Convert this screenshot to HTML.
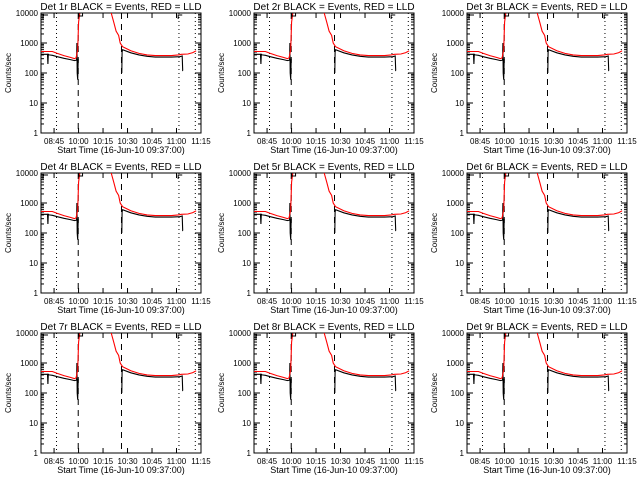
<!DOCTYPE html>
<html><head><meta charset="utf-8"><style>
body{margin:0;background:#fff}
svg{display:block;font-family:"Liberation Sans",sans-serif}
</style></head><body>
<svg id="c" width="640" height="480" viewBox="0 0 640 480"></svg>
<script>
// time in minutes since 09:37
const tickLabels=["08:45","10:00","10:15","10:30","10:45","11:00","11:15"];
const tickTimes=[8,23,38,53,68,83,98];
const yTicks=[1,10,100,1000,10000];
const redT=[0,7,10,14,18,20.5,21.5,22.5,23,24.5,41,43,44.5,46,47.5,48.5,50,55,60,65,70,75,80,84,86,90,93,95];
const redV=[520,520,450,380,330,300,320,600,5000,20000,20000,10000,5000,2500,1800,1000,750,550,450,400,380,380,380,400,420,430,480,550];
const blkT=[0,4,4.2,4.5,5,7,10,14,18,20.5,21.8,22,22.2,22.5,22.8];
const blkV=[420,420,200,420,400,390,350,310,280,260,270,1000,100,60,300];
const blk2T=[49.5,49.7,50,55,60,65,70,75,80,85,86.5,86.8,87];
const blk2V=[100,500,600,470,400,360,340,340,340,350,370,120,120];
const vDotted=[9.5,84.5,94.5];
const vDashed=[22.8,49.3];
const detNames=["1r","2r","3r","4r","5r","6r","7r","8r","9r"];
const NS="http://www.w3.org/2000/svg";
const svg=document.getElementById('c');
function mk(tag,attrs,parent,txt){const e=document.createElementNS(NS,tag);for(const k in attrs)e.setAttribute(k,attrs[k]);if(txt!==undefined)e.textContent=txt;parent.appendChild(e);return e;}
detNames.forEach((d,i)=>{
  const ox=(i%3)*213, oy=Math.floor(i/3)*160;
  const L=ox+41,R=ox+201,T=oy+13,B=oy+133;
  const xs=t=>L+t*(R-L)/98;
  const ys=v=>B-Math.log10(Math.max(v,0.5))*30;
  const g=mk('g',{},svg);
  
  
  const clip='cl'+i;
  const cp=mk('clipPath',{id:clip},g);mk('rect',{x:L,y:T,width:R-L,height:B-T},cp);
  const title=mk('text',{x:(L+R)/2,y:oy+10,'text-anchor':'middle','font-size':10},g,'Det '+d+' BLACK = Events, RED = LLD');
  
  
  const box=mk('rect',{x:L,y:T,width:R-L,height:B-T,fill:'none',stroke:'#000','stroke-width':1},g);
  
  
  yTicks.forEach(v=>{
    const y=ys(v);
    mk('line',{x1:L,x2:L+6,y1:y,y2:y,stroke:'#000'},g);
    mk('line',{x1:R,x2:R-6,y1:y,y2:y,stroke:'#000'},g);
    const yl=mk('text',{x:L-3,y:y+3,'text-anchor':'end','font-size':8},g,String(v));
    
    
    if(v<10000)for(let m=2;m<10;m++){const yy=ys(v*m);mk('line',{x1:L,x2:L+3,y1:yy,y2:yy,stroke:'#000'},g);mk('line',{x1:R,x2:R-3,y1:yy,y2:yy,stroke:'#000'},g);}
  });
  tickTimes.forEach((t,k)=>{
    const x=xs(t);
    mk('line',{x1:x,x2:x,y1:B,y2:B-5,stroke:'#000'},g);
    mk('line',{x1:x,x2:x,y1:T,y2:T+5,stroke:'#000'},g);
    const xl=mk('text',{x:x,y:B+11,'text-anchor':'middle','font-size':8},g,tickLabels[k]);
    
    
  });
  const xt=mk('text',{x:(L+R)/2,y:B+20,'text-anchor':'middle','font-size':9},g,'Start Time (16-Jun-10 09:37:00)');
  
  
  const yt=mk('text',{x:0,y:0,'text-anchor':'middle','font-size':8,transform:`translate(${ox+11},${(T+B)/2}) rotate(-90)`},g,'Counts/sec');
  
  
  vDotted.forEach(t=>{const l=mk('line',{x1:xs(t),x2:xs(t),y1:T,y2:B,stroke:'#000','stroke-dasharray':'1,3'},g);
    });
  vDashed.forEach(t=>{const l=mk('line',{x1:xs(t),x2:xs(t),y1:T,y2:B,stroke:'#000','stroke-dasharray':'6,5'},g);
    });
  const cg=mk('g',{'clip-path':`url(#${clip})`},g);
  const pts=(ts,vs)=>ts.map((t,k)=>xs(t).toFixed(1)+','+ys(vs[k]).toFixed(1)).join(' ');
  const b1=mk('polyline',{points:pts(blkT,blkV),fill:'none',stroke:'#000','stroke-width':1.1},cg);
  
  const b2=mk('polyline',{points:pts(blk2T,blk2V),fill:'none',stroke:'#000','stroke-width':1.1},cg);
  
  const r=mk('polyline',{points:pts(redT,redV),fill:'none',stroke:'#ff0000','stroke-width':1.1},cg);
  
  mk('rect',{x:xs(23),y:T,width:4,height:3,fill:'none',stroke:'#000'},g);
  mk('polyline',{points:`${L+2},${T+6} ${L+2},${T+2} ${L+7},${T+2}`,fill:'none',stroke:'#000'},g);
  mk('polyline',{points:`${xs(84)},${T+6} ${xs(84)},${T+2} ${xs(86.5)},${T+2}`,fill:'none',stroke:'#000'},g);
});
</script>
</body></html>
